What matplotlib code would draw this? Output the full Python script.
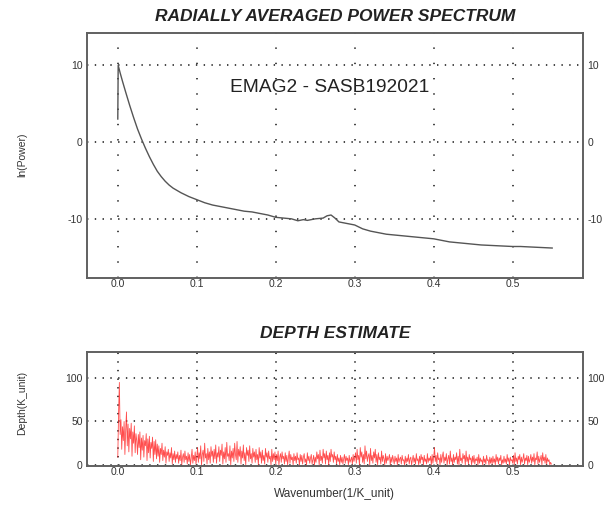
import numpy as np
import matplotlib.pyplot as plt

plt.rcParams['font.family'] = ['Liberation Sans', 'DejaVu Sans']
plt.rcParams['lines.scale_dashes'] = False
plt.rcParams['axes.unicode_minus'] = False

# power spectrum
k_power = [0.000, 0.0005, 0.003, 0.006, 0.010, 0.015, 0.020, 0.025, 0.030,
           0.035, 0.040, 0.045, 0.050, 0.055, 0.060, 0.065, 0.070, 0.080,
           0.090, 0.100, 0.110, 0.120, 0.130, 0.140, 0.150, 0.160,
           0.170, 0.180, 0.190, 0.200, 0.210, 0.220, 0.228, 0.235, 0.240,
           0.250, 0.260, 0.265, 0.270, 0.275, 0.280, 0.290, 0.300, 0.310,
           0.320, 0.330, 0.340, 0.350, 0.360, 0.370, 0.380, 0.390, 0.400,
           0.410, 0.420, 0.430, 0.440, 0.450, 0.460, 0.470, 0.480, 0.490,
           0.500, 0.510, 0.520, 0.530, 0.540, 0.550]
ln_power = [3.0, 10.0, 9.0, 7.9, 6.5, 4.8, 3.2, 1.7, 0.4,
            -0.8, -1.9, -2.9, -3.8, -4.5, -5.1, -5.6, -6.0, -6.6,
            -7.1, -7.5, -7.9, -8.2, -8.4, -8.6, -8.8, -9.0,
            -9.1, -9.3, -9.5, -9.8, -9.9, -10.0, -10.25, -10.1, -10.2,
            -10.0, -9.9, -9.6, -9.5, -9.9, -10.4, -10.6, -10.8, -11.3,
            -11.6, -11.8, -12.0, -12.1, -12.2, -12.3, -12.4, -12.5, -12.6,
            -12.8, -13.0, -13.1, -13.2, -13.3, -13.4, -13.45, -13.5, -13.55,
            -13.6, -13.6, -13.65, -13.7, -13.75, -13.8]

# depth estimate, one value every 0.001
depth = [
    9, 60, 95, 35, 52, 18, 44, 28, 50, 12, 40, 61, 22, 47, 15, 42, 30, 48, 10, 38, 25, 45, 14, 36, 28,
    12, 35, 20, 38, 6, 31, 17, 34, 9, 28, 22, 36, 5, 30, 14, 33, 8, 26, 19, 32, 4, 27, 12, 29, 7,
    24, 10, 22, 3, 19, 12, 25, 5, 17, 9, 21, 2, 15, 11, 18, 4, 14, 8, 20, 1, 13, 6, 16, 3, 12,
    7, 15, 2, 11, 5, 17, 0, 9, 13, 3, 16, 6, 10, 1, 14, 4, 12, 0, 8, 18, 2, 11, 5, 15, 1,
    9, 20, 3, 14, 7, 22, 0, 12, 17, 4, 25, 8, 13, 1, 19, 6, 15, 2, 21, 10, 16, 3, 18, 7, 23,
    2, 14, 9, 21, 4, 17, 11, 24, 1, 15, 7, 20, 3, 26, 10, 13, 5, 22, 0, 16, 8, 19, 4, 25, 12,
    6, 27, 3, 18, 10, 21, 1, 16, 8, 23, 5, 14, 0, 20, 11, 17, 4, 22, 7, 13, 2, 19, 9, 15, 3,
    18, 6, 12, 0, 20, 8, 15, 2, 17, 5, 11, 1, 19, 9, 14, 3, 16, 7, 10, 0, 18, 4, 13, 6, 15,
    1, 12, 5, 16, 0, 9, 13, 3, 15, 7, 10, 1, 14, 4, 11, 0, 8, 16, 2, 12, 6, 9, 0, 13, 5,
    10, 2, 14, 6, 8, 0, 12, 4, 11, 1, 9, 13, 3, 7, 0, 14, 5, 10, 2, 8, 12, 1, 6, 11, 0,
    9, 3, 15, 7, 12, 0, 17, 5, 10, 2, 18, 8, 13, 1, 16, 6, 11, 0, 14, 4, 18, 9, 12, 3, 15,
    6, 10, 1, 12, 4, 8, 0, 11, 3, 9, 1, 7, 12, 2, 10, 5, 8, 0, 11, 3, 6, 9, 1, 12, 4,
    8, 14, 2, 18, 6, 11, 0, 20, 9, 15, 3, 12, 1, 22, 7, 16, 4, 10, 13, 0, 19, 5, 11, 2, 15,
    8, 18, 3, 12, 0, 14, 6, 9, 1, 16, 4, 11, 7, 0, 13, 2, 10, 5, 8, 12, 0, 9, 3, 11, 6,
    1, 10, 4, 8, 0, 12, 3, 7, 9, 1, 11, 5, 6, 0, 10, 2, 8, 4, 12, 1, 7, 9, 0, 6, 11,
    3, 8, 1, 13, 5, 7, 0, 10, 2, 12, 6, 9, 0, 11, 4, 7, 1, 13, 3, 8, 5, 10, 0, 12, 2,
    9, 20, 4, 11, 1, 14, 6, 8, 0, 12, 3, 10, 15, 2, 9, 5, 13, 0, 7, 11, 1, 16, 4, 8, 0,
    12, 3, 9, 6, 14, 1, 10, 0, 18, 5, 8, 2, 13, 7, 11, 0, 16, 4, 9, 1, 12, 6, 8, 0, 10,
    3, 11, 1, 7, 5, 9, 0, 12, 2, 8, 4, 6, 0, 10, 3, 7, 1, 11, 5, 6, 0, 9, 2, 8, 1,
    10, 3, 7, 0, 12, 4, 9, 1, 8, 5, 11, 0, 6, 2, 10, 3, 7, 1, 12, 4, 8, 0, 9, 5, 6,
    2, 11, 0, 14, 4, 8, 1, 10, 6, 12, 0, 9, 3, 7, 13, 1, 8, 5, 11, 0, 10, 3, 6, 12, 2,
    9, 4, 13, 0, 8, 6, 15, 1, 10, 3, 7, 11, 0, 14, 5, 9, 2, 12, 1, 8, 4, 6, 0, 3, 1]
k_depth = np.arange(len(depth)) * 0.001

x_ticks = [0.0, 0.1, 0.2, 0.3, 0.4, 0.5]
power_ticks = [-10, 0, 10]
depth_ticks = [0, 50, 100]


def style_axis(ax, yticks, vdash):
    ax.set_xlim(-0.039, 0.589)
    ax.set_xticks(x_ticks)
    ax.set_xticklabels(["%.1f" % t for t in x_ticks])
    ax.set_yticks(yticks)
    for t in x_ticks:
        ax.axvline(t, color='#444444', lw=1.4, ls=(0, (1.0, vdash)), zorder=0)
    for t in yticks:
        ax.axhline(t, color='#444444', lw=1.4, ls=(0, (1.0, 4.6)), zorder=0)
    ax.tick_params(length=0, labelsize=7.5, colors='#333333',
                   labelright=True, right=True)
    ax.tick_params(axis='x', pad=1)
    ax.tick_params(axis='y', pad=3)
    for s in ax.spines.values():
        s.set_color('#606060')
        s.set_linewidth(1.4)


fig = plt.figure(figsize=(6.1, 5.11), dpi=100)
ax1 = fig.add_axes([0.1426, 0.456, 0.8131, 0.4794])
ax2 = fig.add_axes([0.1426, 0.0881, 0.8131, 0.2231])

ax1.plot(k_power, ln_power, color='#555555', lw=1.0)
ax1.set_ylim(-17.7, 14.2)
style_axis(ax1, power_ticks, 10.0)
ax1.text(0.268, 7.1, "EMAG2 - SASB192021", fontsize=13.8, ha='center',
         va='center', color='#222222')

ax2.plot(k_depth, depth, color='#ff2020', lw=0.6, alpha=0.8)
ax2.set_ylim(-1.2, 130)
style_axis(ax2, depth_ticks, 5.2)

fig.text(0.549, 0.968, "RADIALLY AVERAGED POWER SPECTRUM", fontsize=12.5,
         fontweight='bold', fontstyle='italic', ha='center', va='center',
         color='#222222')
fig.text(0.549, 0.348, "DEPTH ESTIMATE", fontsize=12.5, fontweight='bold',
         fontstyle='italic', ha='center', va='center', color='#222222')
fig.text(0.036, 0.697, "ln(Power)", rotation=90, fontsize=7.5,
         ha='center', va='center', color='#333333')
fig.text(0.036, 0.211, "Depth(K_unit)", rotation=90, fontsize=7.5,
         ha='center', va='center', color='#333333')
fig.text(0.549, 0.033, "Wavenumber(1/K_unit)", fontsize=8.5,
         ha='center', va='center', color='#333333')

fig.savefig("out.png", dpi=100)
